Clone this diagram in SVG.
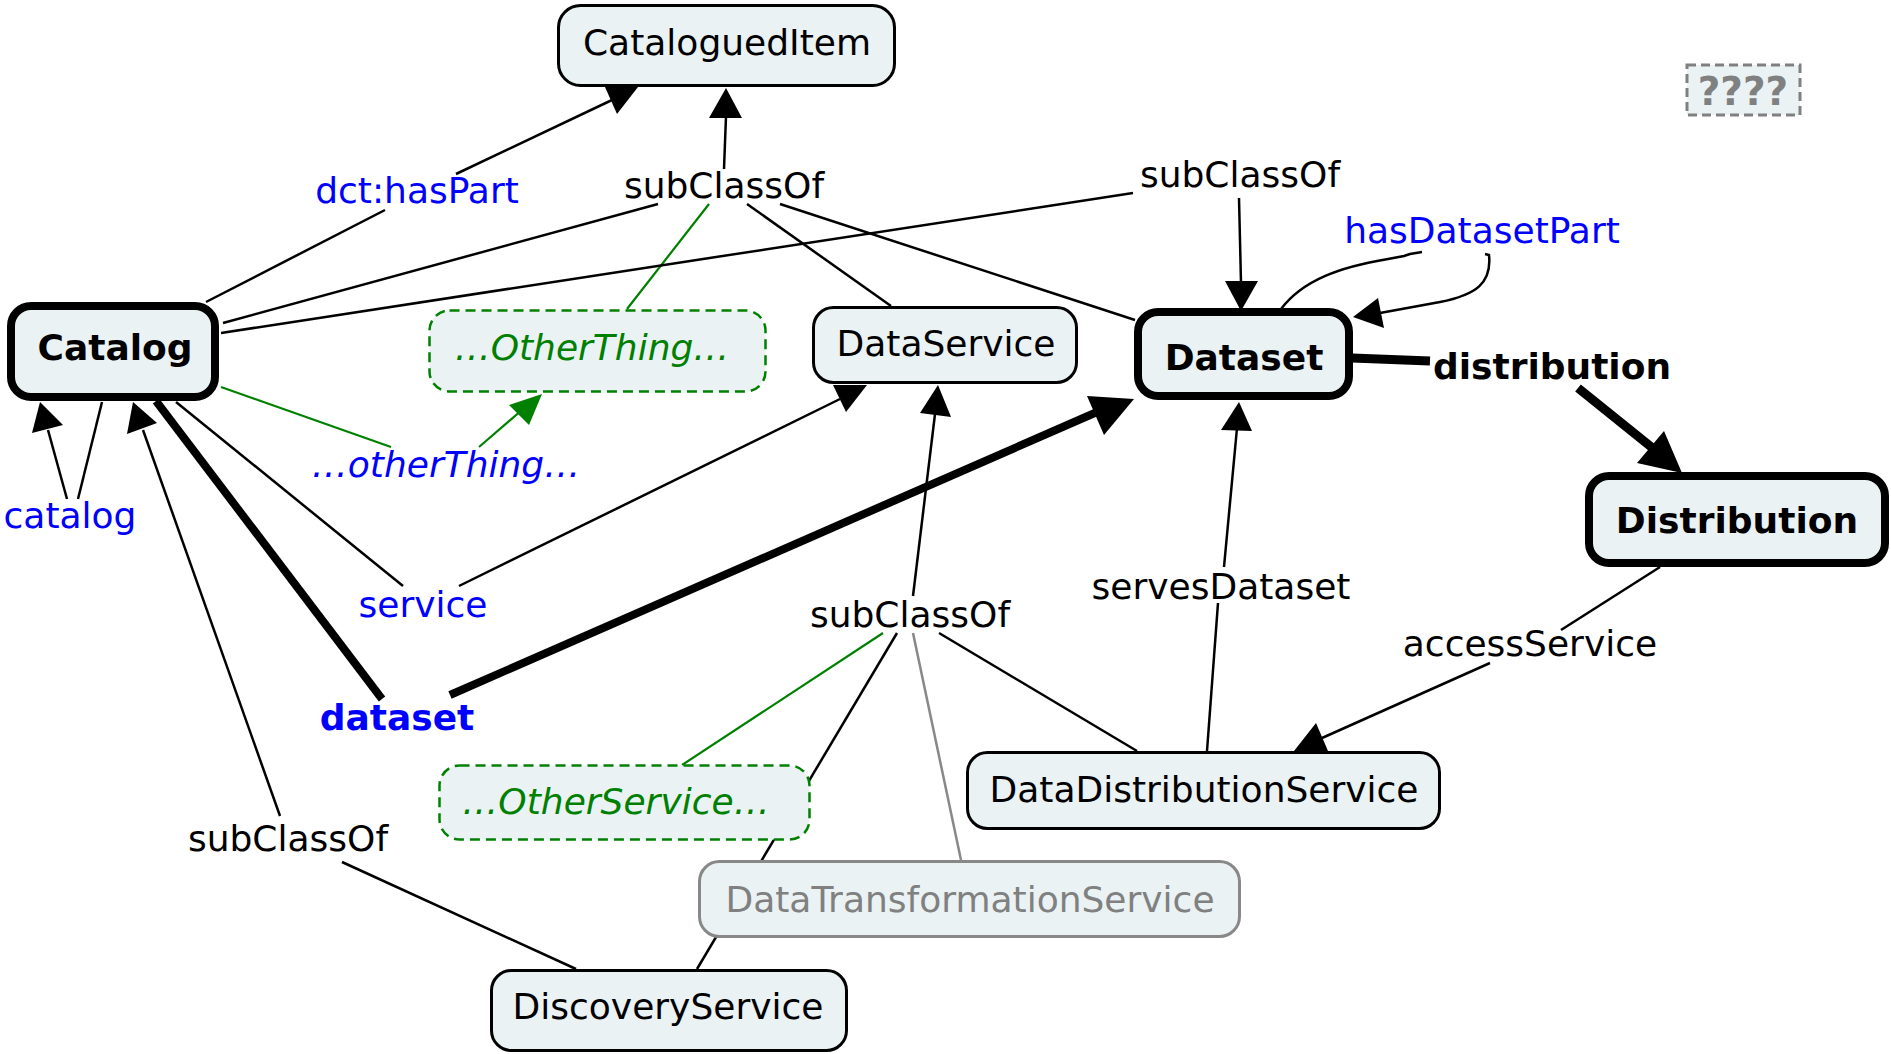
<svg xmlns="http://www.w3.org/2000/svg" width="1891" height="1054" viewBox="0 0 1891 1054">
<style>
  text { font-family: "DejaVu Sans", "Verdana", sans-serif; font-size: 36px; text-anchor: middle; }
  .node { fill: #eaf2f4; stroke: #000; stroke-width: 3; }
  .thick { fill: #eaf2f4; stroke: #000; stroke-width: 8; }
  .other { fill: #eaf2f4; stroke: #008000; stroke-width: 2.5; stroke-dasharray: 10 6; }
  .grayn { fill: #eaf2f4; stroke: #888; stroke-width: 3; }
  .unk { fill: #eaf2f4; stroke: #808080; stroke-width: 3; stroke-dasharray: 9 5; }
  .ln { stroke: #000; stroke-width: 2.5; fill: none; }
  .lg { stroke: #008000; stroke-width: 2.2; fill: none; }
  .lgray { stroke: #888; stroke-width: 2.5; fill: none; }
  .lt { stroke: #000; stroke-width: 9; fill: none; }
  .ah { fill: #000; }
  .ahg { fill: #008000; }
  .blue { fill: #0000ff; }
  .green { fill: #008000; font-style: italic; }
  .bold { font-weight: bold; }
  .gray { fill: #808080; }
</style>

<g id="connectors">
  <!-- dct:hasPart -->
  <line class="ln" x1="206" y1="302" x2="385" y2="210"/>
  <line class="ln" x1="456" y1="174" x2="612" y2="100"/>
  <polygon class="ah" points="605,87 638,87 617,114"/>
  <text x="417" y="203" class="blue">dct:hasPart</text>

  <!-- subClassOf top -->
  <line class="ln" x1="724" y1="169" x2="726" y2="116"/>
  <polygon class="ah" points="726,88 709,118 742,118"/>
  <line class="ln" x1="658" y1="204" x2="223" y2="323"/>
  <line class="lg" x1="709" y1="204" x2="627" y2="309"/>
  <line class="ln" x1="747" y1="204" x2="891" y2="306"/>
  <line class="ln" x1="780" y1="204" x2="1135" y2="320"/>
  <text x="724" y="198">subClassOf</text>

  <!-- subClassOf right -->
  <line class="ln" x1="1133" y1="193" x2="221" y2="333"/>
  <line class="ln" x1="1239" y1="198" x2="1241" y2="283"/>
  <polygon class="ah" points="1241,311 1225,281 1258,281"/>
  <text x="1240" y="187">subClassOf</text>

  <!-- hasDatasetPart loop -->
  <path class="ln" d="M1281,309 C1303,280 1340,267 1388,259 L1404,256 L1410,254 L1422,252"/>
  <path class="ln" d="M1485,254 L1489,255 C1492,283 1476,295 1440,302 L1380,313"/>
  <polygon class="ah" points="1353,317 1378,298 1384,328"/>
  <text x="1482" y="243" class="blue">hasDatasetPart</text>

  <!-- distribution -->
  <line class="lt" x1="1352" y1="358" x2="1430" y2="361"/>
  <line class="lt" x1="1578" y1="388" x2="1655" y2="450"/>
  <polygon class="ah" points="1682,473 1637,463 1664,431"/>
  <text x="1552" y="379" class="bold">distribution</text>

  <!-- ...otherThing... -->
  <line class="lg" x1="221" y1="387" x2="391" y2="447"/>
  <line class="lg" x1="479" y1="447" x2="522" y2="410"/>
  <polygon class="ahg" points="542,394 509,405 529,425"/>
  <text x="446" y="477" class="blue" style="font-style:italic">…otherThing…</text>

  <!-- catalog loop -->
  <line class="ln" x1="78" y1="499" x2="102" y2="402"/>
  <line class="ln" x1="67" y1="499" x2="48" y2="430"/>
  <polygon class="ah" points="40,402 32,433 63,425"/>
  <text x="70" y="528" class="blue">catalog</text>

  <!-- service -->
  <line class="ln" x1="176" y1="402" x2="403" y2="586"/>
  <line class="ln" x1="459" y1="586" x2="840" y2="399"/>
  <polygon class="ah" points="833,385 867,385 846,412"/>
  <text x="423" y="617" class="blue">service</text>

  <!-- dataset -->
  <line class="lt" x1="156" y1="401" x2="382" y2="699" style="stroke-width:8"/>
  <line class="lt" x1="450" y1="695" x2="1097" y2="412" style="stroke-width:8"/>
  <polygon class="ah" points="1134,399 1087,396 1104,435"/>
  <text x="397" y="730" class="blue bold">dataset</text>

  <!-- subClassOf bottom-left -->
  <line class="ln" x1="280" y1="816" x2="143" y2="430"/>
  <polygon class="ah" points="133,402 127,434 157,423"/>
  <line class="ln" x1="342" y1="862" x2="576" y2="969"/>
  <text x="288" y="851">subClassOf</text>

  <!-- subClassOf middle -->
  <line class="ln" x1="913" y1="596" x2="935" y2="414"/>
  <polygon class="ah" points="938,385 920,413 951,417"/>
  <line class="lg" x1="883" y1="633" x2="682" y2="765"/>
  <line class="ln" x1="897" y1="633" x2="697" y2="969"/>
  <line class="lgray" x1="913" y1="633" x2="961" y2="860"/>
  <line class="ln" x1="939" y1="633" x2="1137" y2="751"/>
  <text x="910" y="627">subClassOf</text>

  <!-- servesDataset -->
  <line class="ln" x1="1207" y1="751" x2="1218" y2="603"/>
  <line class="ln" x1="1224" y1="567" x2="1237" y2="428"/>
  <polygon class="ah" points="1239,402 1221,430 1252,431"/>
  <text x="1221" y="599">servesDataset</text>

  <!-- accessService -->
  <line class="ln" x1="1660" y1="567" x2="1561" y2="630"/>
  <line class="ln" x1="1490" y1="663" x2="1322" y2="738"/>
  <polygon class="ah" points="1316,723 1294,751 1328,751"/>
  <text x="1530" y="656">accessService</text>
</g>

<g id="node-catalogueditem">
  <rect class="node" x="558.5" y="5.5" width="336" height="80" rx="22"/>
  <text x="727" y="55">CataloguedItem</text>
</g>
<g id="node-catalog">
  <rect class="thick" x="11" y="306" width="204" height="91" rx="20"/>
  <text x="115" y="360" class="bold">Catalog</text>
</g>
<g id="node-dataset">
  <rect class="thick" x="1138" y="312" width="211" height="84" rx="20"/>
  <text x="1244" y="370" class="bold">Dataset</text>
</g>
<g id="node-distribution">
  <rect class="thick" x="1589" y="476" width="296" height="87" rx="20"/>
  <text x="1737" y="533" class="bold">Distribution</text>
</g>
<g id="node-dataservice">
  <rect class="node" x="813.5" y="307.5" width="263" height="75" rx="20"/>
  <text x="946" y="356">DataService</text>
</g>
<g id="node-otherthing">
  <rect class="other" x="429.5" y="310.5" width="336" height="81" rx="20"/>
  <text x="592" y="360" class="green">…OtherThing…</text>
</g>
<g id="node-otherservice">
  <rect class="other" x="439.5" y="765.5" width="370" height="74" rx="20"/>
  <text x="616" y="814" class="green">…OtherService…</text>
</g>
<g id="node-datadistributionservice">
  <rect class="node" x="967.5" y="752.5" width="472" height="76" rx="20"/>
  <text x="1204" y="802">DataDistributionService</text>
</g>
<g id="node-datatransformationservice">
  <rect class="grayn" x="699.5" y="861.5" width="540" height="75" rx="20"/>
  <text x="970" y="912" class="gray">DataTransformationService</text>
</g>
<g id="node-discoveryservice">
  <rect class="node" x="491.5" y="970.5" width="355" height="80" rx="20"/>
  <text x="668" y="1019">DiscoveryService</text>
</g>
<g id="node-unknown">
  <rect class="unk" x="1687" y="65" width="113" height="50"/>
  <text x="1743" y="105" class="gray bold" style="font-size:39px">????</text>
</g>
</svg>
